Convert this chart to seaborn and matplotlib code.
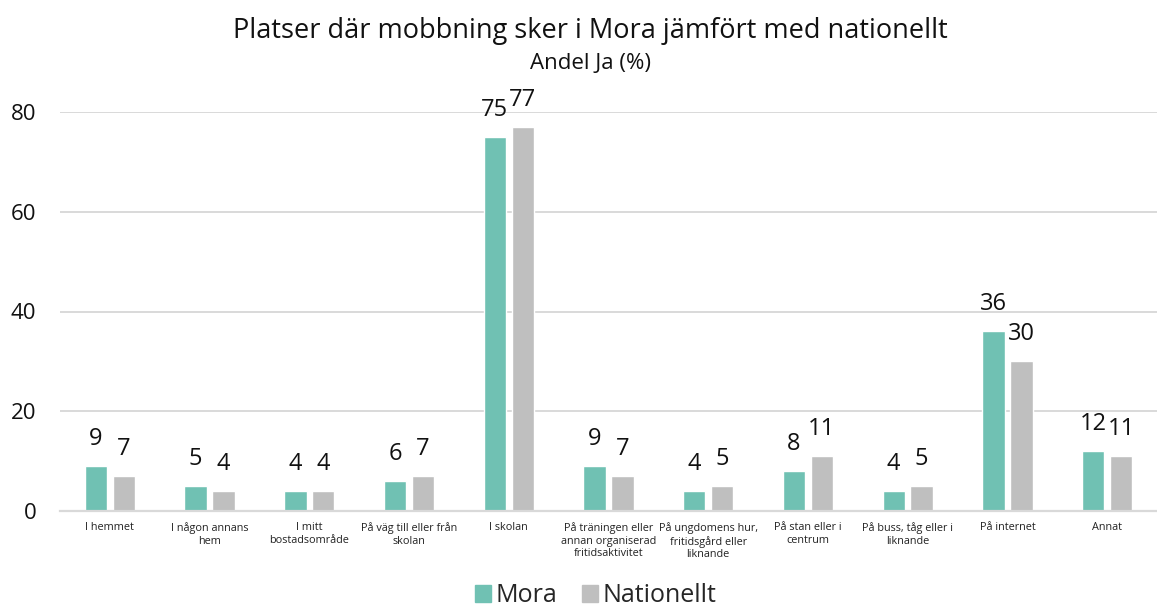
import pandas as pd
import seaborn as sns
import matplotlib.pyplot as plt
from matplotlib.patches import Patch

categories = [
    "I hemmet",
    "I någon annans\nhem",
    "I mitt\nbostadsområde",
    "På väg till eller från\nskolan",
    "I skolan",
    "På träningen eller\nannan organiserad\nfritidsaktivitet",
    "På ungdomens hur,\nfritidsgård eller\nliknande",
    "På stan eller i\ncentrum",
    "På buss, tåg eller i\nliknande",
    "På internet",
    "Annat",
]
mora = [9, 5, 4, 6, 75, 9, 4, 8, 4, 36, 12]
nationellt = [7, 4, 4, 7, 77, 7, 5, 11, 5, 30, 11]
series = ["Mora", "Nationellt"]
colors = ["#70C1B3", "#BFBFBF"]

df = pd.DataFrame({
    "plats": categories * 2,
    "andel": mora + nationellt,
    "grupp": [series[0]] * len(categories) + [series[1]] * len(categories),
})

sns.set_style("white")
plt.rcParams["font.family"] = ["Open Sans", "DejaVu Sans"]

fig = plt.figure(figsize=(11.57, 6.11), dpi=100)
ax = fig.add_axes([60 / 1157, 100 / 611, 1097 / 1157, 399 / 611])

sns.barplot(data=df, x="plats", y="andel", hue="grupp", palette=colors,
            width=0.56, gap=0.2, ax=ax, legend=False, saturation=1)

for cont in ax.containers:
    ax.bar_label(cont, fmt="%g", padding=11, fontsize=17, color="#111111")

ax.set_ylim(0, 80)
ax.set_yticks([0, 20, 40, 60, 80])
ax.set_xlabel("")
ax.set_ylabel("")
ax.yaxis.grid(True, color="#D9D9D9", linewidth=1.4)
ax.set_axisbelow(True)
for s in ["top", "right", "left"]:
    ax.spines[s].set_visible(False)
ax.spines["bottom"].set_color("#D9D9D9")
ax.spines["bottom"].set_linewidth(1.6)
ax.tick_params(axis="y", length=0, pad=17, labelsize=16, labelcolor="#111111")
ax.tick_params(axis="x", length=0, pad=8, labelsize=7.8, labelcolor="#222222")

fig.text(0.51, 0.95, "Platser där mobbning sker i Mora jämfört med nationellt",
         ha="center", va="center", fontsize=19.5, color="#111111")
fig.text(0.51, 0.896, "Andel Ja (%)", ha="center", va="center", fontsize=16, color="#111111")

handles = [Patch(color=c, label=s) for c, s in zip(colors, series)]
fig.legend(handles=handles, loc="center", bbox_to_anchor=(0.515, 0.025), ncol=2,
           frameon=False, fontsize=18, handlelength=0.62, handleheight=0.62,
           handletextpad=0.2, columnspacing=1.0, borderpad=0)

fig.savefig("out.png", dpi=100)
